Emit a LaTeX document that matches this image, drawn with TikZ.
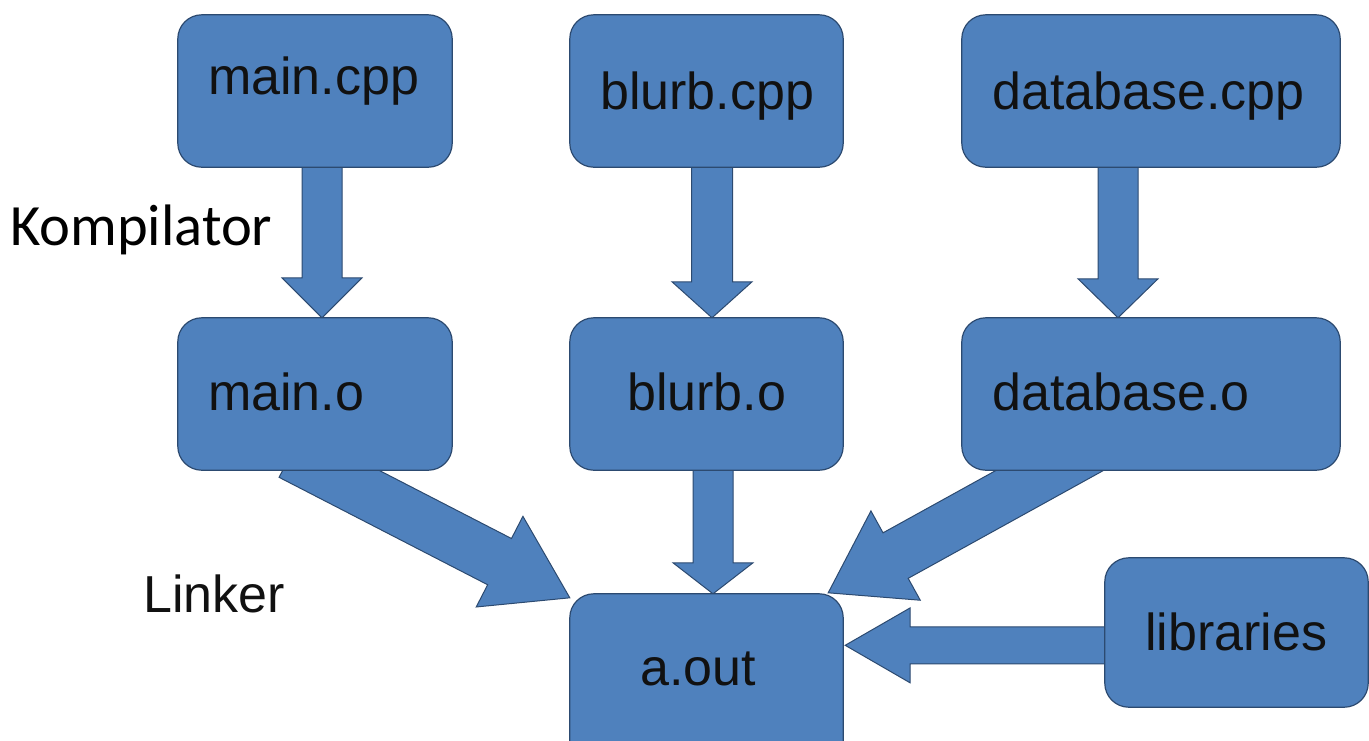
\documentclass[tikz,border=0pt]{standalone}
\usepackage{fontspec}
\setmainfont{Liberation Sans}
\newfontfamily\calibrifont{Carlito}
\usetikzlibrary{calc}

\definecolor{boxblue}{HTML}{4F81BD}
\definecolor{boxedge}{HTML}{2C4A70}
\definecolor{ink}{HTML}{111111}

\tikzset{
  box/.style={rectangle, draw=boxedge, line width=1.2pt, fill=boxblue,
              rounded corners=24pt, inner sep=0pt},
  arrowbody/.style={draw=boxedge, line width=1pt, fill=boxblue, line join=miter},
  lbl/.style={anchor=base west, inner sep=0pt, text=ink,
              font=\fontsize{52}{60}\selectfont},
}

% block arrow: #1 start, #2 tip, #3 half shaft width, #4 half head width, #5 head length
\newcommand\blockarrow[5]{%
  \coordinate (ba-s) at (#1);
  \coordinate (ba-t) at (#2);
  \coordinate (ba-b) at ($(ba-t)!#5!(ba-s)$);
  \draw[arrowbody]
    ($(ba-s)!#3!90:(ba-t)$) -- ($(ba-b)!#3!90:(ba-t)$) --
    ($(ba-b)!#4!90:(ba-t)$) -- (ba-t) --
    ($(ba-b)!#4!-90:(ba-t)$) -- ($(ba-b)!#3!-90:(ba-t)$) --
    ($(ba-s)!#3!-90:(ba-t)$) -- cycle;
}

\begin{document}
\begin{tikzpicture}[x=1pt, y=1pt]
\useasboundingbox (0,0) rectangle (1369,-740);
\clip (0,0) rectangle (1369,-740);

% box positions (drawn later, on top of the arrows)
\path
  (315,-91)     node[minimum width=274pt, minimum height=152pt] (maincpp) {}
  (706.5,-91)   node[minimum width=273pt, minimum height=152pt] (blurbcpp) {}
  (1151,-91)    node[minimum width=378pt, minimum height=152pt] (dbcpp) {}
  (315,-394)    node[minimum width=274pt, minimum height=152pt] (maino) {}
  (706.5,-394)  node[minimum width=273pt, minimum height=152pt] (blurbo) {}
  (1151,-394)   node[minimum width=378pt, minimum height=152pt] (dbo) {}
  (706.5,-682)  node[minimum width=273pt, minimum height=176pt] (aout) {}
  (1236.5,-632.5) node[minimum width=263pt, minimum height=149pt] (libs) {};

% compiler arrows
\coordinate (s1) at ($(maincpp.south)+(7,20)$);
\coordinate (t1) at ($(maino.north)+(7,0)$);
\blockarrow{s1}{t1}{20pt}{40pt}{40pt}
\coordinate (s2) at ($(blurbcpp.south)+(5.5,20)$);
\coordinate (t2) at ($(blurbo.north)+(5.5,0)$);
\blockarrow{s2}{t2}{20.5pt}{40pt}{36pt}
\coordinate (s3) at ($(dbcpp.south)+(-33,20)$);
\coordinate (t3) at ($(dbo.north)+(-33,0)$);
\blockarrow{s3}{t3}{20pt}{40pt}{39pt}

% linker arrows
\coordinate (s4) at ($(maino.south)+(-24,16)$);
\coordinate (t4) at ($(aout.north west)+(0,-4)$);
\blockarrow{s4}{t4}{26pt}{51pt}{79pt}
\coordinate (s5) at ($(blurbo.south)+(6.5,20)$);
\coordinate (t5) at ($(aout.north)+(6.5,0)$);
\blockarrow{s5}{t5}{20pt}{40pt}{31pt}
\coordinate (s6) at ($(dbo.south)+(-61,22)$);
\coordinate (t6) at ($(aout.north east)+(-15,1)$);
\blockarrow{s6}{t6}{26pt}{51pt}{77pt}
\coordinate (s7) at ($(libs.west)+(25,-13)$);
\coordinate (t7) at ($(aout.north east)+(2,-51.5)$);
\blockarrow{s7}{t7}{18.5pt}{37.5pt}{65pt}

% boxes
\foreach \n in {maincpp,blurbcpp,dbcpp,maino,blurbo,dbo,aout,libs}
  \draw[box] (\n.south west) rectangle (\n.north east);

% box texts
\node[lbl] (tmaincpp) at (208,-94) {main.cpp};
\node[lbl] (tblurbcpp) at (600,-109) {blurb.cpp};
\node[lbl] (tdbcpp) at (992,-109) {database.cpp};
\node[lbl] (tmaino) at (208,-410) {main.o};
\node[lbl] (tblurbo) at (627,-410) {blurb.o};
\node[lbl] (tdbo) at (992,-410) {database.o};
\node[lbl] (taout) at (640,-685) {a.out};
\node[lbl] (tlibs) at (1145,-650) {libraries};

% stage labels
\node[anchor=base west, inner sep=0pt, text=black,
      font=\calibrifont\fontsize{58.5}{68}\selectfont] (komp) at (10,-245) {Kompilator};
\node[lbl] (linker) at (143,-612) {Linker};
\end{tikzpicture}
\end{document}
